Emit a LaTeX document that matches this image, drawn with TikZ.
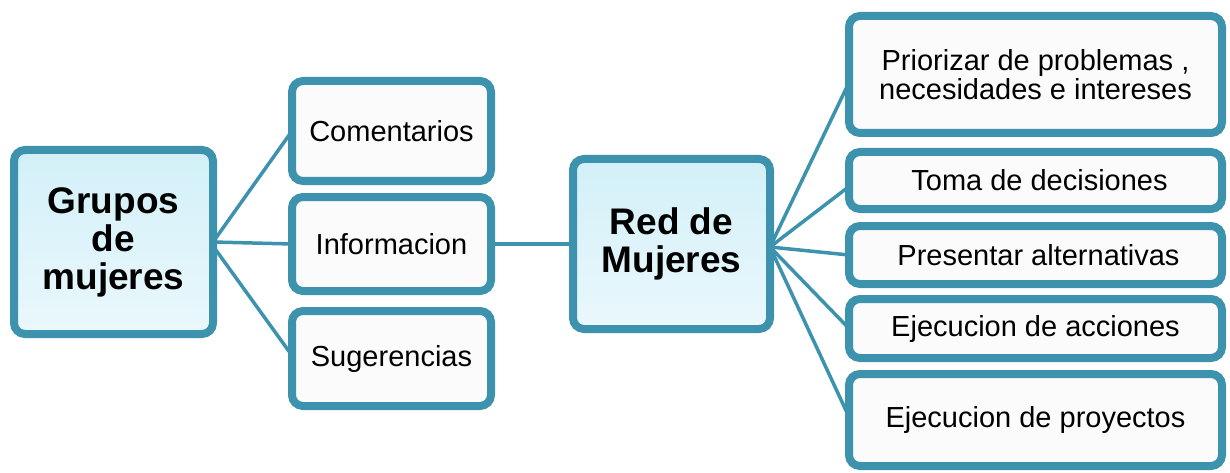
\documentclass[tikz,border=0pt]{standalone}
\usepackage{fontspec}
\setmainfont{Liberation Sans}
\usetikzlibrary{shadows,backgrounds,calc}
\definecolor{tealb}{HTML}{3D93AD}
\definecolor{cyanl}{HTML}{EAF8FC}
\definecolor{cyanm}{HTML}{D2F0F8}
\definecolor{paper}{HTML}{FBFBFB}
\begin{document}
\begin{tikzpicture}[x=1pt,y=-1pt,
  box/.style={draw=tealb, line width=8pt, rounded corners=11pt, fill=paper,
    inner sep=0pt, outer sep=0pt, align=center,
    font=\fontsize{29}{29}\selectfont,
    drop shadow={opacity=0.22, shadow xshift=1.5pt, shadow yshift=-2pt}},
  mainbox/.style={box, top color=cyanm, bottom color=cyanl,
    font=\bfseries\fontsize{37}{38}\selectfont},
  midbox/.style={box, minimum width=199pt},
  rbox/.style={box, minimum width=373pt},
  link/.style={draw=tealb, line width=3.5pt}]
\useasboundingbox (0,0) rectangle (1230,473);

\node[mainbox, minimum width=199pt, minimum height=184pt] (G) at (113.5,242) {Grupos\\de\\mujeres};

\node[midbox, minimum height=100pt] (C) at (391.5,131) {Comentarios};
\node[midbox, minimum height=94pt] (I) at (391.5,244) {Informacion};
\node[midbox, minimum height=95pt] (S) at (391.5,358.5) {Sugerencias};

\node[mainbox, minimum width=197pt, minimum height=170pt] (R) at (671.5,244) {Red de\\Mujeres};

\node[rbox, minimum height=117pt] (P) at (1035.5,74.5) {Priorizar de problemas ,\\necesidades e intereses};
\node[rbox, minimum height=57pt] (T) at (1035.5,180.5) {\hspace*{8pt}Toma de decisiones};
\node[rbox, minimum height=58pt] (A) at (1035.5,255) {\hspace*{6pt}Presentar alternativas};
\node[rbox, minimum height=59pt] (E1) at (1035.5,328.5) {Ejecucion de acciones};
\node[rbox, minimum height=92pt] (E2) at (1035.5,420) {Ejecucion de proyectos};

\begin{scope}[on background layer]
  \draw[link] (G.east) -- (C.west);
  \draw[link] (G.east) -- (I.west);
  \draw[link] ([yshift=-4pt]G.east) -- ([yshift=3pt]S.west);
  \draw[link] (I.east) -- (R.west);
  \draw[link] ([yshift=-3pt]R.east) -- ([yshift=-8pt]P.west);
  \draw[link] ([yshift=-3pt]R.east) -- ([yshift=-6pt]T.west);
  \draw[link] ([yshift=-3pt]R.east) -- (A.west);
  \draw[link] ([yshift=-3pt]R.east) -- (E1.west);
  \draw[link] ([yshift=-3pt]R.east) -- ([yshift=3pt]E2.west);
\end{scope}
\end{tikzpicture}
\end{document}
